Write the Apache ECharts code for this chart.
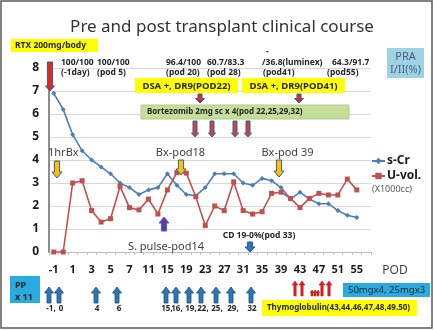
<!DOCTYPE html>
<html>
<head>
<meta charset="utf-8">
<script src="https://cdn.jsdelivr.net/npm/echarts@6/dist/echarts.min.js"></script>
<style>
  html, body { margin: 0; padding: 0; background: #fff; }
  #chart { width: 434px; height: 330px; }
</style>
</head>
<body>
<div id="chart"></div>
<script>
// Post-operative day (POD) categories: daily up to day 7, then every second day
const podDays = ['-1','0','1','2','3','4','5','6','7','9','11','13','15','17','19','21','23','25',
                 '27','29','31','33','35','37','39','41','43','45','47','49','51','53','55','57'];

// Serum creatinine (mg/dL)
const serumCr = [6.9, 6.2, 5.1, 4.4, 4.0, 3.7, 3.4, 3.0, 2.8, 2.5, 2.7, 2.8, 3.4, 2.9, 2.5, 2.45, 2.8,
                 3.4, 3.4, 3.4, 3.0, 2.9, 3.2, 3.1, 2.8, 2.3, 2.6, 2.3, 2.1, 2.1, 1.8, 1.6, 1.5];

// Urine volume (x1000 cc)
const urineVol = [0, 0, 3.0, 3.1, 1.8, 1.3, 1.45, 2.85, 1.93, 1.83, 2.3, 1.65, 2.7, 3.45, 3.43, 2.4, 1.15,
                  2.0, 1.8, 3.05, 1.8, 1.65, 1.75, 2.55, 2.6, 2.33, 1.93, 2.33, 2.55, 2.48, 2.48, 3.17, 2.7];

const yTicks = { min: 0, max: 8, interval: 1 };

const FONT = 'Noto Sans';
const BLUE_EDGE = '#2f5f9e';

function txt(x, y, s, o) {
  o = o || {};
  return {
    type: 'text', x: x, y: y, z: 100,
    style: {
      text: s,
      fill: o.fill || '#262626',
      fontSize: o.size || 9,
      fontWeight: o.weight || 'normal',
      fontFamily: FONT,
      align: o.align || 'left',
      verticalAlign: 'middle'
    }
  };
}
function box(x, y, w, h, fill, stroke) {
  return {
    type: 'rect', z: 90,
    shape: { x: x, y: y, width: w, height: h },
    style: { fill: fill, stroke: stroke || null, lineWidth: stroke ? 1 : 0 }
  };
}
// block arrow; dir 'down' puts the tip at y1, 'up' puts it at y0
function arrow(cx, y0, y1, dir, fill, o) {
  o = o || {};
  const sw = o.sw || 2.2, hw = o.hw || 4.5, hl = o.hl || 5;
  let pts;
  if (dir === 'down') {
    pts = [[cx - sw, y0], [cx + sw, y0], [cx + sw, y1 - hl], [cx + hw, y1 - hl], [cx, y1],
           [cx - hw, y1 - hl], [cx - sw, y1 - hl]];
  } else {
    pts = [[cx - sw, y1], [cx + sw, y1], [cx + sw, y0 + hl], [cx + hw, y0 + hl], [cx, y0],
           [cx - hw, y0 + hl], [cx - sw, y0 + hl]];
  }
  return {
    type: 'polygon', z: 95,
    shape: { points: pts },
    style: { fill: fill, stroke: o.stroke === undefined ? BLUE_EDGE : o.stroke, lineWidth: o.lw || 1 }
  };
}

const graphics = [
  // outer frame
  { type: 'rect', z: 100, shape: { x: 1, y: 1, width: 431, height: 327 },
    style: { fill: null, stroke: '#595959', lineWidth: 1.5 } },

  txt(222, 27, 'Pre and post transplant clinical course', { size: 17, align: 'center', fill: '#333' }),

  box(11, 39, 87, 13, '#ffff00'),
  txt(15, 45.5, 'RTX 200mg/body', { weight: 'bold', size: 8.5 }),
  arrow(50, 62, 91, 'down', '#e0281e', { sw: 2.6, hw: 4.5, hl: 5 }),

  // PRA values
  txt(61, 63, '100/100', { weight: 'bold', size: 8.5 }),
  txt(61, 72.5, '(-1day)', { weight: 'bold', size: 8.5 }),
  txt(97, 63, '100/100', { weight: 'bold', size: 8.5 }),
  txt(97, 72.5, '(pod 5)', { weight: 'bold', size: 8.5 }),
  txt(166, 63, '96.4/100', { weight: 'bold', size: 8.5 }),
  txt(166, 72.5, '(pod 20)', { weight: 'bold', size: 8.5 }),
  txt(207, 63, '60.7/83.3', { weight: 'bold', size: 8.5 }),
  txt(207, 72.5, '(pod 28)', { weight: 'bold', size: 8.5 }),
  txt(266, 52, '-', { weight: 'bold', size: 8.5 }),
  txt(262, 63, '/36.8(luminex)', { weight: 'bold', size: 8.5 }),
  txt(263, 72.5, '(pod41)', { weight: 'bold', size: 8.5 }),
  txt(332, 63, '64.3/91.7', { weight: 'bold', size: 8.5 }),
  txt(327, 72.5, '(pod55)', { weight: 'bold', size: 8.5 }),

  box(387, 48, 37, 30, '#9fd3e3'),
  txt(405.5, 57, 'PRA', { size: 11, align: 'center', fill: '#4a6284' }),
  txt(405.5, 70, 'I/II(%)', { size: 11, align: 'center', fill: '#4a6284' }),

  // DSA
  box(135, 78, 103, 15, '#ffff00'),
  txt(186.5, 86, 'DSA +, DR9(POD22)', { weight: 'bold', size: 9.5, align: 'center' }),
  box(242, 78, 103, 15, '#ffff00'),
  txt(293.5, 86, 'DSA +, DR9(POD41)', { weight: 'bold', size: 9.5, align: 'center' }),
  arrow(200, 94, 103, 'down', '#e0281e', { sw: 2, hw: 4.5, hl: 4.5 }),
  arrow(299, 94, 103, 'down', '#e0281e', { sw: 2, hw: 4.5, hl: 4.5 }),

  // Bortezomib
  box(141, 105, 208, 14, '#c5de9c', '#b1cd86'),
  txt(147, 112, 'Bortezomib 2mg sc x 4(pod 22,25,29,32)', { weight: 'bold', size: 8 }),
  arrow(195, 121, 137, 'down', '#c8453a', { sw: 2, hw: 3.5, hl: 4 }),
  arrow(212, 121, 137, 'down', '#c8453a', { sw: 2, hw: 3.5, hl: 4 }),
  arrow(235, 121, 137, 'down', '#c8453a', { sw: 2, hw: 3.5, hl: 4 }),
  arrow(248, 121, 137, 'down', '#c8453a', { sw: 2, hw: 3.5, hl: 4 }),

  // biopsies
  txt(48, 153, '1hrBx', { size: 11, fill: '#404040' }),
  arrow(57, 161, 178, 'down', '#ffc000', { sw: 2.6, hw: 5, hl: 6 }),
  txt(180.5, 153, 'Bx-pod18', { size: 11, align: 'center', fill: '#404040' }),
  arrow(181, 160, 175, 'down', '#ffc000', { sw: 2.6, hw: 5, hl: 6 }),
  txt(287.5, 153, 'Bx-pod 39', { size: 11, align: 'center', fill: '#404040' }),
  arrow(279, 160, 177, 'down', '#ffc000', { sw: 2.6, hw: 5, hl: 6 }),

  // steroid pulse
  arrow(164, 217, 231, 'up', '#7030a0', { sw: 2.6, hw: 5, hl: 6, stroke: '#2e75b6' }),
  txt(166, 247, 'S. pulse-pod14', { size: 11, align: 'center', fill: '#404040' }),

  // CD19
  txt(259, 236, 'CD 19-0%(pod 33)', { weight: 'bold', size: 8.5, align: 'center' }),
  arrow(250, 242, 252, 'down', '#2e75b6', { sw: 2.6, hw: 5, hl: 5, stroke: '#2a5d95' }),

  txt(372, 189, '(X1000cc)', { size: 9, fill: '#595959' }),
  txt(395, 271, 'POD', { size: 12, align: 'center', fill: '#404040' }),

  // plasmapheresis
  box(10, 276, 30, 27, '#29abe2'),
  txt(15, 285, 'PP', { weight: 'bold', size: 9 }),
  txt(15, 297, 'x 11', { weight: 'bold', size: 9 }),

  // Thymoglobulin
  box(343, 283, 87, 14, '#29abe2'),
  txt(348, 290, '50mgx4, 25mgx3', { size: 9.5 }),
  box(262, 300, 155, 16, '#ffff00'),
  txt(267, 308, 'Thymoglobulin(43,44,46,47,48,49.50)', { weight: 'bold', size: 8 })
];

// plasmapheresis arrows and day labels
const ppX = [49, 59, 96, 117, 166, 176, 189, 201, 216, 231, 251];
ppX.forEach(function (x) {
  graphics.push(arrow(x, 287, 303, 'up', '#2e75b6', { sw: 2, hw: 4.5, hl: 6, stroke: '#1f4e79', lw: 0.8 }));
});
const ppLabels = [[51, '-1,'], [61, '0'], [97, '4'], [119, '6'], [167, '15,'], [177, '16,'],
                  [191, '19,'], [203, '22,'], [217, '25,'], [233, '29,'], [252, '32']];
ppLabels.forEach(function (p) {
  graphics.push(txt(p[0], 309, p[1], { weight: 'bold', size: 8, align: 'center' }));
});
// thymoglobulin doses: tall = 50 mg, short = 25 mg
[295, 302, 322, 329].forEach(function (x) {
  graphics.push(arrow(x, 281, 296, 'up', '#e02020', { sw: 1.2, hw: 3, hl: 4, stroke: '#b01010', lw: 0.5 }));
});
[312, 315, 318].forEach(function (x) {
  graphics.push(arrow(x, 290, 296, 'up', '#e02020', { sw: 1, hw: 1.8, hl: 2.5, stroke: '#b01010', lw: 0.5 }));
});

const chart = echarts.init(document.getElementById('chart'), null, { renderer: 'canvas' });
chart.setOption({
  animation: false,
  backgroundColor: '#fff',
  grid: { left: 49, right: 63, top: 68, bottom: 78, containLabel: false },
  legend: {
    orient: 'vertical', left: 366, top: 150, itemGap: 3, itemWidth: 13, itemHeight: 8,
    textStyle: { fontFamily: FONT, fontSize: 12, fontWeight: 'bold', color: '#1a1a1a', padding: [0, 0, 0, -3] },
    data: ['s-Cr', 'U-vol.']
  },
  xAxis: {
    type: 'category', data: podDays, boundaryGap: true,
    axisLine: { lineStyle: { color: '#bfbfbf', width: 1 } },
    axisTick: { show: true, interval: 0, length: 3, lineStyle: { color: '#bfbfbf' } },
    axisLabel: { interval: 1, margin: 12, fontFamily: FONT, fontSize: 11, fontWeight: 'bold', color: '#1a1a1a' },
    splitLine: { show: false }
  },
  yAxis: {
    type: 'value', min: yTicks.min, max: yTicks.max, interval: yTicks.interval,
    axisLine: { show: true, lineStyle: { color: '#8c8c8c', width: 2 } },
    axisTick: { show: false },
    axisLabel: { margin: 10, fontFamily: FONT, fontSize: 12, fontWeight: 'bold', color: '#1a1a1a' },
    splitLine: { lineStyle: { color: '#d9d9d9', width: 1 } }
  },
  series: [
    {
      name: 's-Cr', type: 'line', data: serumCr,
      symbol: 'diamond', symbolSize: 5,
      lineStyle: { color: '#4a7ebb', width: 1.6 },
      itemStyle: { color: '#4a7ebb' }
    },
    {
      name: 'U-vol.', type: 'line', data: urineVol,
      symbol: 'rect', symbolSize: 5,
      lineStyle: { color: '#c0504d', width: 1.6 },
      itemStyle: { color: '#c0504d' }
    }
  ],
  graphic: graphics
});
</script>
</body>
</html>
